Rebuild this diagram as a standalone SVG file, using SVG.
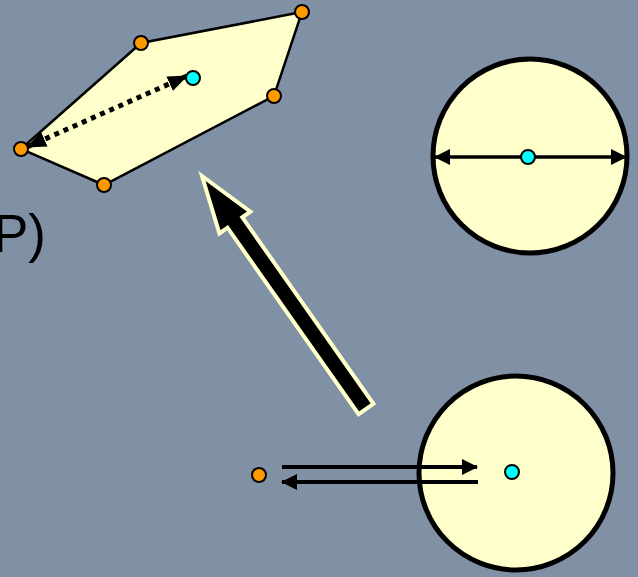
<svg xmlns="http://www.w3.org/2000/svg" width="638" height="577" viewBox="0 0 638 577">
<style>
.shape{fill:#ffffcc;stroke:#000;}
.orange{fill:#ff9900;stroke:#000;stroke-width:2;}
.cyan{fill:#00ffff;stroke:#000;stroke-width:2;}
.line{stroke:#000;fill:none;}
.label{font-family:"Liberation Sans",Arial,sans-serif;font-size:53px;fill:#000;}
</style>
<defs>
<marker id="ah" markerUnits="userSpaceOnUse" markerWidth="20" markerHeight="20" viewBox="0 0 20 20" refX="19" refY="10" orient="auto-start-reverse">
<path d="M0,2 L20,10 L0,18 Z" fill="#000"/>
</marker>
<marker id="ahs" markerUnits="userSpaceOnUse" markerWidth="16" markerHeight="18" viewBox="0 0 16 18" refX="15" refY="9" orient="auto-start-reverse">
<path d="M0,1 L16,9 L0,17 Z" fill="#000"/>
</marker>
</defs>
<rect width="638" height="577" fill="#8090a5"/>
<text class="label" x="46" y="252" text-anchor="end">P)</text>
<g id="polygon">
<polygon class="shape" stroke-width="2.5" points="21,149 141,43 302,12 274,96 104,185"/>
</g>
<g id="circle-right">
<circle class="shape" stroke-width="5" cx="530" cy="156" r="97"/>
</g>
<g id="circle-bottom">
<circle class="shape" stroke-width="5" cx="516" cy="473" r="97"/>
</g>
<g id="connectors">
<line class="line" x1="27" y1="147" x2="187" y2="76" stroke-width="5" stroke-dasharray="5 5" marker-start="url(#ah)" marker-end="url(#ah)"/>
<line class="line" x1="435" y1="157" x2="626" y2="157" stroke-width="3.5" marker-start="url(#ahs)" marker-end="url(#ahs)"/>
<line class="line" x1="282" y1="467" x2="477" y2="467" stroke-width="4" marker-end="url(#ahs)"/>
<line class="line" x1="478" y1="482" x2="282" y2="482" stroke-width="4" marker-end="url(#ahs)"/>
<polygon fill="#000" stroke="#ffffcc" stroke-width="4" stroke-linejoin="miter" points="202,176 250.4,211.6 242.3,217.3 373.4,403.8 358.6,414.2 227.5,227.7 219.4,233.4"/>
</g>
<g id="points">
<circle class="orange" cx="21" cy="149" r="7"/>
<circle class="orange" cx="141" cy="43" r="7"/>
<circle class="orange" cx="302" cy="12" r="7"/>
<circle class="orange" cx="274" cy="96" r="7"/>
<circle class="orange" cx="104" cy="185" r="7"/>
<circle class="cyan" cx="193" cy="78" r="7"/>
<circle class="cyan" cx="528" cy="157" r="7"/>
<circle class="cyan" cx="512" cy="472" r="7"/>
<circle class="orange" cx="259" cy="475" r="7"/>
</g>
</svg>
